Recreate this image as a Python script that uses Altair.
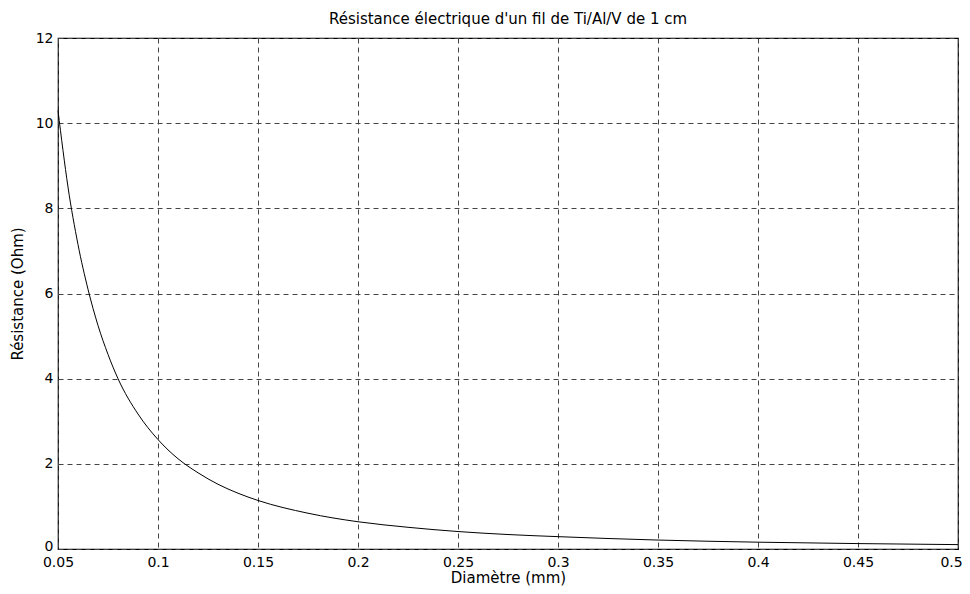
import altair as alt
import pandas as pd

diam = [0.05, 0.055, 0.06, 0.065, 0.07, 0.075, 0.08, 0.09, 0.10, 0.11, 0.12,
        0.13, 0.14, 0.15, 0.175, 0.20, 0.225, 0.25, 0.275, 0.30, 0.35, 0.40,
        0.45, 0.50]
resist = [10.3, 8.5, 7.15, 6.1, 5.25, 4.57, 4.0, 3.17, 2.57, 2.12, 1.79,
          1.52, 1.31, 1.14, 0.84, 0.64, 0.51, 0.41, 0.34, 0.29, 0.21, 0.16,
          0.127, 0.103]
x_ticks = [0.05, 0.1, 0.15, 0.2, 0.25, 0.3, 0.35, 0.4, 0.45, 0.5]
y_ticks = [0, 2, 4, 6, 8, 10, 12]

df = pd.DataFrame({"d": diam, "r": resist})

font = "DejaVu Sans"

chart = alt.Chart(df).mark_line(color="black", strokeWidth=1, interpolate="monotone").encode(
    x=alt.X("d:Q", scale=alt.Scale(domain=[0.05, 0.5], nice=False, zero=False),
            axis=alt.Axis(values=x_ticks, title="Diamètre (mm)", format="~g",
                          labelFontSize=14, titleFontSize=15, titleFontWeight="normal",
                          labelPadding=6, titlePadding=1, labelFlush=False,
                          labelOffset={"condition": {"test": "datum.value >= 0.49", "value": -7},
                                       "value": 0})),
    y=alt.Y("r:Q", scale=alt.Scale(domain=[0, 12], nice=False),
            axis=alt.Axis(values=y_ticks, title="Résistance (Ohm)",
                          labelFontSize=14, titleFontSize=15, titleFontWeight="normal",
                          labelPadding=5, titlePadding=10, labelFlush=False,
                          labelOffset={"condition": {"test": "datum.value <= 0.01", "value": -3},
                                       "value": 0})),
).properties(
    width=900, height=511,
    title=alt.TitleParams("Résistance électrique d'un fil de Ti/Al/V de 1 cm",
                          fontSize=15, fontWeight="normal", font=font, offset=4,
                          color="black"),
    autosize=alt.AutoSizeParams(type="none"),
    padding={"left": 50, "top": 30, "right": 4, "bottom": 37},
).configure_view(
    stroke="black", strokeWidth=1.2
).configure_axis(
    labelFont=font, titleFont=font, labelColor="black", titleColor="black",
    domain=False, ticks=False, grid=True, gridColor="#444",
    gridDash=[5, 4], gridWidth=1, gridOpacity=1,
)

chart.save("out.html", embed_options={"renderer": "svg", "actions": False})
